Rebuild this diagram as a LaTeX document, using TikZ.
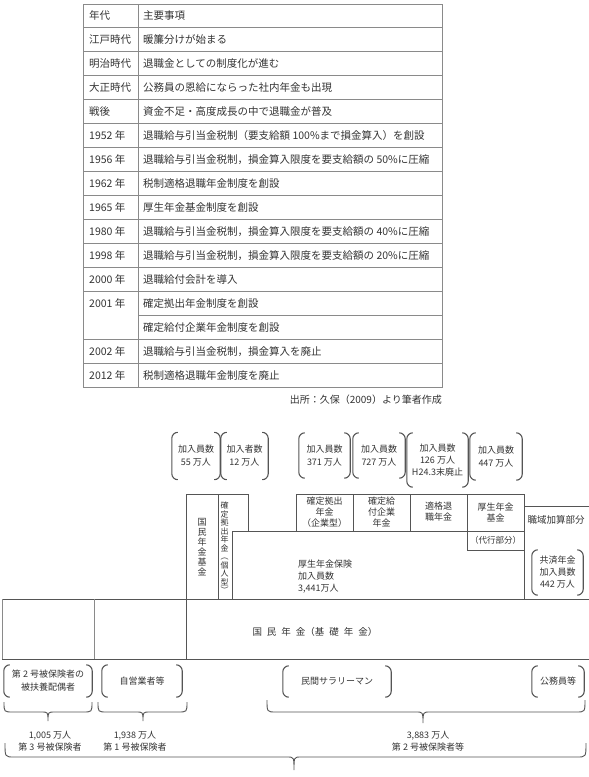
\documentclass[tikz,border=0pt]{standalone}
\usepackage{fontspec}
\setmainfont{Noto Sans CJK JP}
\definecolor{tgray}{HTML}{8A8A8A}
\definecolor{lgray}{HTML}{555555}
\definecolor{txt}{HTML}{333333}

\begin{document}
\begin{tikzpicture}[x=1pt, y=-1pt, every node/.style={text=txt, inner sep=0pt},
    cell/.style={anchor=west, font=\fontsize{10.5}{12}\selectfont},
    tline/.style={draw=tgray, line width=1pt},
    boxline/.style={draw=lgray, line width=0.9pt},
    divline/.style={draw=tgray, line width=0.7pt},
    lbl/.style={align=center, font=\fontsize{9}{11}\selectfont},
    vert/.style={align=center, font=\fontsize{8.5}{9.5}\selectfont},
    grp/.style={align=center, font=\fontsize{9}{13}\selectfont},
    brk/.style={draw=lgray, line width=1.1pt, rounded corners=6pt},
    brc/.style={draw=lgray, line width=0.9pt}]
    \useasboundingbox (0,0) rectangle (589,777);

    % table
    \foreach \yr/\txt [count=\i from 0] in {年代/主要事項, 江戸時代/暖簾分けが始まる, 明治時代/退職金としての制度化が進む, 大正時代/公務員の恩給にならった社内年金も出現, 戦後/資金不足・高度成長の中で退職金が普及, 1952 年/退職給与引当金税制（要支給額 100\%まで損金算入）を創設, 1956 年/退職給与引当金税制，損金算入限度を要支給額の 50\%に圧縮, 1962 年/税制適格退職年金制度を創設, 1965 年/厚生年金基金制度を創設, 1980 年/退職給与引当金税制，損金算入限度を要支給額の 40\%に圧縮, 1998 年/退職給与引当金税制，損金算入限度を要支給額の 20\%に圧縮, 2000 年/退職給付会計を導入, 2001 年/確定拠出年金制度を創設, {}/確定給付企業年金制度を創設, 2002 年/退職給与引当金税制，損金算入を廃止, 2012 年/税制適格退職年金制度を廃止}{
        \node[cell] (yr\i) at (89,{4+23.94*(\i+0.5)}) {\yr};
        \node[cell] (ev\i) at (143,{4+23.94*(\i+0.5)}) {\txt};
        \draw[tline] (138,{4+23.94*\i}) -- (442,{4+23.94*\i});
        \ifnum\i=13 \else \draw[tline] (83,{4+23.94*\i}) -- (138,{4+23.94*\i}); \fi
    }
    \draw[tline] (83,4) rectangle (442,387);
    \draw[tline] (138,4) -- (138,387);
    \node[anchor=east, font=\fontsize{10}{12}\selectfont] (src) at (442,400) {出所：久保（2009）より筆者作成};

    % member counts
    \node[grp, minimum width=48pt, minimum height=47pt] (g55) at (196,456) {加入員数\\55 万人};
    \node[grp, minimum width=47pt, minimum height=47pt] (g12) at (244.5,456) {加入者数\\12 万人};
    \node[grp, minimum width=51pt, minimum height=45pt] (g371) at (324.5,455.5) {加入員数\\371 万人};
    \node[grp, minimum width=52pt, minimum height=45pt] (g727) at (379,455.5) {加入員数\\727 万人};
    \node[grp, minimum width=61pt, minimum height=54pt, font=\fontsize{9}{12}\selectfont] (g126) at (437.5,460) {加入員数\\126 万人\\H24.3末廃止};
    \node[grp, minimum width=52pt, minimum height=47pt] (g447) at (496,456.5) {加入員数\\447 万人};
    \node[grp, minimum width=51pt, minimum height=45pt, font=\fontsize{9}{12}\selectfont] (g442) at (557.5,572.5) {共済年金\\加入員数\\442 万人};

    % pension boxes
    \draw[boxline] (186,494) rectangle (218,599);
    \draw[boxline] (218,494) -- (248,494) -- (248,531);
    \draw[boxline] (232,599) -- (232,531) -- (524,531);
    \draw[boxline] (296,531) -- (296,494) -- (467,494);
    \draw[boxline] (353,494) -- (353,531);
    \draw[boxline] (410,494) -- (410,531);
    \draw[boxline] (467,494) rectangle (524,550);
    \draw[boxline] (524,550) -- (524,599);
    \draw[boxline] (524,506) -- (589,506);
    \draw[boxline] (2,599) -- (589,599);
    \draw[boxline] (2,659) -- (589,659);
    \draw[divline] (2,599) -- (2,659);
    \draw[divline] (94,599) -- (94,659);
    \draw[boxline] (186,599) -- (186,659);

    \node[vert, font=\fontsize{9}{10}\selectfont] (kikin) at (202,547) {国\\民\\年\\金\\基\\金};
    \node[vert, font=\fontsize{8}{8.5}\selectfont] (dcind) at (224.5,548) {確\\定\\拠\\出\\年\\金\\︵\\個\\人\\型\\︶};
    \node[lbl] (dccorp) at (324.5,512) {確定拠出\\年金\\（企業型）};
    \node[lbl] (db) at (381.5,512) {確定給\\付企業\\年金};
    \node[lbl] (tekikaku) at (438.5,512) {適格退\\職年金};
    \node[lbl] (kikin2) at (495.5,512) {厚生年金\\基金};
    \node[lbl, font=\fontsize{8.5}{10}\selectfont] (daiko) at (495.5,540) {（代行部分）};
    \node[lbl, font=\fontsize{9.5}{11}\selectfont] (shokuiki) at (556,520) {職域加算部分};
    \node[lbl, anchor=west, align=left, font=\fontsize{9}{12}\selectfont] (kosei) at (298,577) {厚生年金保険\\加入員数\\3,441万人};
    \node[lbl, font=\fontsize{9.5}{11}\selectfont] (kokumin) at (315,632) {国\hspace{5pt}民\hspace{5pt}年\hspace{5pt}金（基\hspace{5pt}礎\hspace{5pt}年\hspace{5pt}金）};

    % insured groups
    \node[grp, minimum width=88pt, minimum height=32pt] (gspouse) at (48,681) {第 2 号被保険者の\\被扶養配偶者};
    \node[grp, minimum width=80pt, minimum height=32pt] (gself) at (142,681) {自営業者等};
    \node[grp, minimum width=108pt, minimum height=31pt] (gprivate) at (337,681.5) {民間サラリーマン};
    \node[grp, minimum width=52pt, minimum height=31pt] (gpublic) at (558,681.5) {公務員等};

    \foreach \g in {g55,g12,g371,g727,g126,g447,g442,gspouse,gself,gprivate,gpublic}{
        \draw[brk] ([xshift=6pt]\g.north west) -- (\g.north west) -- (\g.south west) -- ([xshift=6pt]\g.south west);
        \draw[brk] ([xshift=-6pt]\g.north east) -- (\g.north east) -- (\g.south east) -- ([xshift=-6pt]\g.south east);
    }

    % braces
    \foreach \xa/\xb/\xt/\ya/\yb/\yc in {4/92/48/702/712/721, 98/187/143/702/712/721, 267/585/423/700/712/723, 5/586/294/743/757/770}{
        \draw[brc] (\xa,\ya) .. controls (\xa,\yb) .. (\xa+9,\yb) -- (\xt-7,\yb) .. controls (\xt,\yb) .. (\xt,\yc) .. controls (\xt,\yb) .. (\xt+7,\yb) -- (\xb-9,\yb) .. controls (\xb,\yb) .. (\xb,\ya);
    }
    \node[lbl, font=\fontsize{9}{12}\selectfont] (n3) at (50,741) {1,005 万人\\第 3 号被保険者};
    \node[lbl, font=\fontsize{9}{12}\selectfont] (n1) at (135,741) {1,938 万人\\第 1 号被保険者};
    \node[lbl, font=\fontsize{9}{12}\selectfont] (n2) at (428,741) {3,883 万人\\第 2 号被保険者等};
\end{tikzpicture}
\end{document}
